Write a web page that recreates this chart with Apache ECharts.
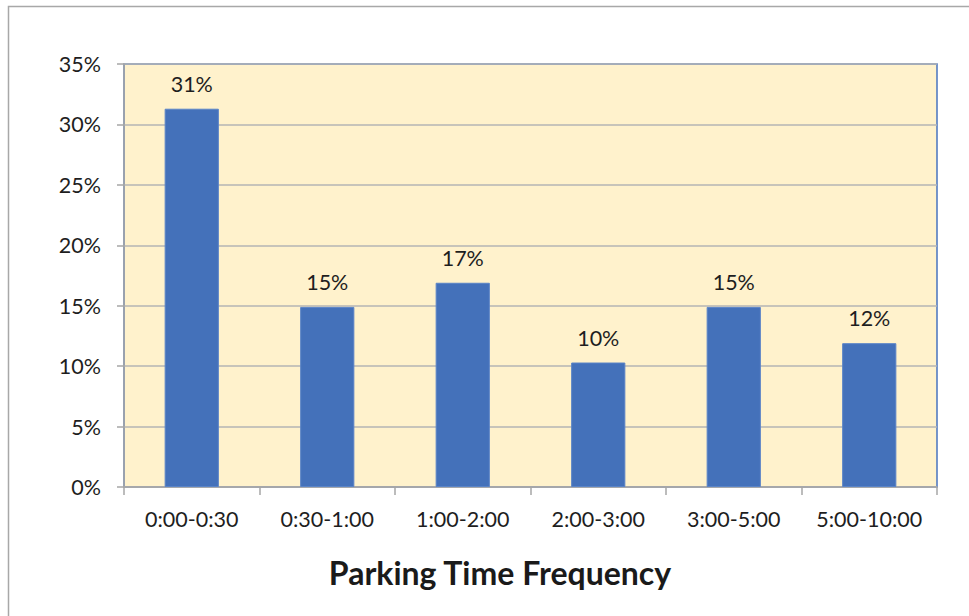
<!DOCTYPE html>
<html>
<head>
<meta charset="utf-8">
<script src="https://cdn.jsdelivr.net/npm/echarts@6/dist/echarts.min.js"></script>
<style>
  html, body { margin: 0; padding: 0; background: #ffffff; }
  #chart { width: 969px; height: 616px; }
</style>
</head>
<body>
<div id="chart"></div>
<script>
// Share of parked vehicles by parking duration
const categories = ['0:00-0:30', '0:30-1:00', '1:00-2:00', '2:00-3:00', '3:00-5:00', '5:00-10:00'];
const shares = [31.3, 14.9, 16.9, 10.3, 14.9, 11.9];
const yTicks = { min: 0, max: 35, interval: 5 };
const chartTitle = 'Parking Time Frequency';

const FONT = 'Lato, "Open Sans", sans-serif';
const TEXT = '#1e1e1e';

const chart = echarts.init(document.getElementById('chart'), null, { renderer: 'svg' });

chart.setOption({
  backgroundColor: '#ffffff',
  animation: false,
  grid: { left: 124, top: 64, right: 32, bottom: 129, show: true,
          backgroundColor: '#FFF2CC', borderColor: '#4A74BE', borderWidth: 1.5 },
  graphic: [
    { type: 'rect', left: 6, top: 4, silent: true,
      shape: { x: 0, y: 0, width: 1000, height: 700 },
      style: { fill: 'none', stroke: '#a8a8a8', lineWidth: 1.5 } },
    { type: 'text', x: 500, y: 572, silent: true,
      style: { text: chartTitle, align: 'center', verticalAlign: 'middle',
               fill: '#1a1a1a', font: 'bold 32px ' + FONT } }
  ],
  xAxis: {
    type: 'category',
    data: categories,
    axisLine: { show: true, lineStyle: { color: '#a6a6a6', width: 1.5 } },
    axisTick: { show: true, interval: 0, length: 8, alignWithLabel: false,
                lineStyle: { color: '#a6a6a6', width: 1.5 } },
    axisLabel: { interval: 0, hideOverlap: false, color: TEXT, fontFamily: FONT,
                 fontSize: 21.5, margin: 21 },
    splitLine: { show: false }
  },
  yAxis: {
    type: 'value',
    min: yTicks.min, max: yTicks.max, interval: yTicks.interval,
    axisLine: { show: true, lineStyle: { color: '#a6a6a6', width: 1.5 } },
    axisTick: { show: true, length: 7, lineStyle: { color: '#a6a6a6', width: 1.5 } },
    axisLabel: { color: TEXT, fontFamily: FONT, fontSize: 21.5, margin: 23,
                 formatter: v => v + '%' },
    splitLine: { show: true, lineStyle: { color: '#b4b4b4', width: 1.5 } }
  },
  series: [{
    type: 'bar',
    data: shares,
    barWidth: '40%',
    itemStyle: { color: '#4471BA', borderColor: '#5A84C8', borderWidth: 1 },
    label: {
      show: true, position: 'top', distance: 14,
      color: TEXT, fontFamily: FONT, fontSize: 21.5,
      formatter: p => Math.round(p.value) + '%'
    }
  }]
});
</script>
</body>
</html>
